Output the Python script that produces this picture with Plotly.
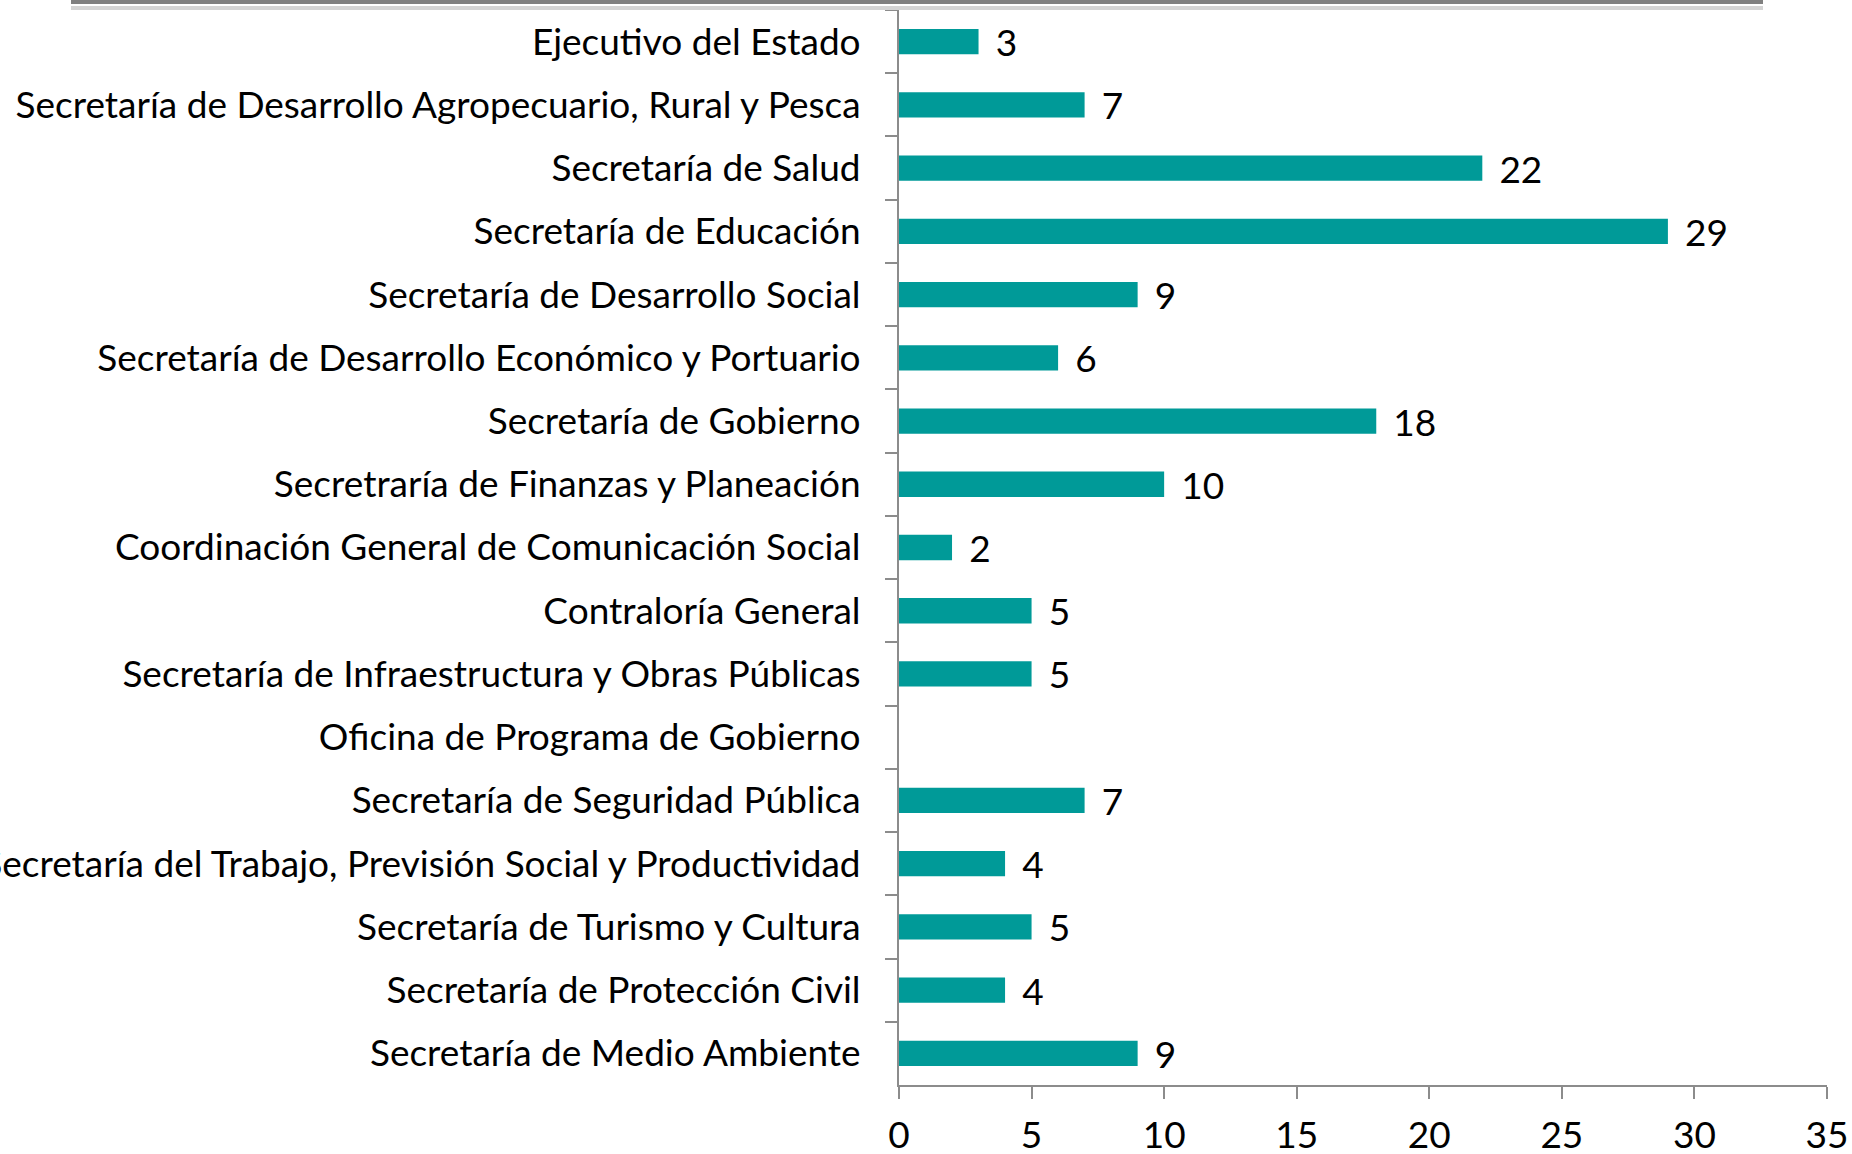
import plotly.graph_objects as go

categories = [
    "Ejecutivo del Estado",
    "Secretaría de Desarrollo Agropecuario, Rural y Pesca",
    "Secretaría de Salud",
    "Secretaría de Educación",
    "Secretaría de Desarrollo Social",
    "Secretaría de Desarrollo Económico y Portuario",
    "Secretaría de Gobierno",
    "Secretraría de Finanzas y Planeación",
    "Coordinación General de Comunicación Social",
    "Contraloría General",
    "Secretaría de Infraestructura y Obras Públicas",
    "Oficina de Programa de Gobierno",
    "Secretaría de Seguridad Pública",
    "Secretaría del Trabajo, Previsión Social y Productividad",
    "Secretaría de Turismo y Cultura",
    "Secretaría de Protección Civil",
    "Secretaría de Medio Ambiente",
]
values = [3, 7, 22, 29, 9, 6, 18, 10, 2, 5, 5, None, 7, 4, 5, 4, 9]
x_ticks = [0, 5, 10, 15, 20, 25, 30, 35]

W, H = 1852, 1154
ML, MR, MT, MB = 899, 25, 10, 69
FONT = "Lato"
FS = 37
BAR = "#009a98"
AX = "#8c8c8c"

labels = ((" \u2009" + str(v)) if v is not None else "" for v in values)
labels = list(labels)

fig = go.Figure(go.Bar(
    y=categories, x=values, orientation="h",
    marker=dict(color=BAR, line=dict(width=0)),
    text=labels, textposition="outside", cliponaxis=False,
    constraintext="none",
    textfont=dict(family=FONT, size=FS, color="black"),
    width=0.4,
))

pw = W - ML - MR
ph = H - MT - MB
def px2x(p):
    return (p - ML) / pw
def py2y(p):
    return (H - MB - p) / ph

fig.update_layout(
    width=W, height=H,
    margin=dict(l=ML, r=MR, t=MT, b=MB, autoexpand=False),
    plot_bgcolor="white", paper_bgcolor="white",
    showlegend=False,
    font=dict(family=FONT, size=FS, color="black"),
    xaxis=dict(range=[0, 35], tickvals=x_ticks, ticktext=[str(t) for t in x_ticks],
               showgrid=False, zeroline=False, showline=True, linecolor=AX, linewidth=2,
               ticks="outside", ticklen=12, tickcolor=AX, tickwidth=2,
               ticklabelstandoff=5, automargin=False,
               tickfont=dict(family=FONT, size=FS, color="black")),
    yaxis=dict(autorange="reversed", showgrid=False, zeroline=False,
               showline=True, linecolor=AX, linewidth=2,
               ticks="outside", ticklen=12, tickcolor=AX, tickwidth=2,
               tickson="boundaries", ticklabelstandoff=29, automargin=False,
               tickfont=dict(family=FONT, size=FS, color="black")),
    shapes=[
        dict(type="rect", xref="paper", yref="paper",
             x0=px2x(71), x1=px2x(1763), y0=py2y(4), y1=py2y(-2),
             fillcolor="#808080", line=dict(width=0), layer="above"),
        dict(type="rect", xref="paper", yref="paper",
             x0=px2x(71), x1=px2x(1763), y0=py2y(10), y1=py2y(6),
             fillcolor="#d4d4d4", line=dict(width=0), layer="above"),
    ],
)

fig.write_html("out.html", config={"displayModeBar": False},
               post_script="document.body.style.margin='0px';document.body.style.overflow='hidden';")
